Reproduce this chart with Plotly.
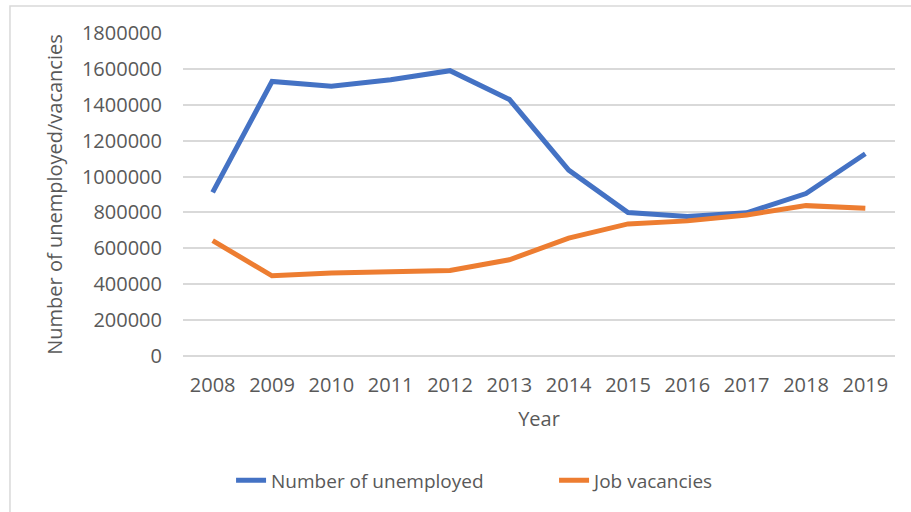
import plotly.graph_objects as go

years = ["2008", "2009", "2010", "2011", "2012", "2013", "2014", "2015", "2016", "2017", "2018", "2019"]
unemployed = [912000, 1530000, 1503000, 1540000, 1590000, 1430000, 1036000, 800000, 777000, 798000, 905000, 1127000]
vacancies = [643000, 447000, 462000, 470000, 477000, 536000, 657000, 736000, 753000, 786000, 838000, 823000]
y_ticks = list(range(0, 1800001, 200000))

FONT = "Open Sans"
TXT = "#595959"

fig = go.Figure()
fig.add_trace(go.Scatter(x=years, y=unemployed, mode="lines", name="Number of unemployed",
                         line=dict(color="#4472C4", width=5)))
fig.add_trace(go.Scatter(x=years, y=vacancies, mode="lines", name="Job vacancies",
                         line=dict(color="#ED7D31", width=5)))

fig.update_layout(
    width=911, height=512,
    margin=dict(l=183, r=16, t=33, b=156, autoexpand=False),
    paper_bgcolor="white", plot_bgcolor="white",
    font=dict(family=FONT, size=20, color=TXT),
    showlegend=True,
    legend=dict(orientation="h", x=0.0675, y=-0.385, xanchor="left", yanchor="middle",
                font=dict(family=FONT, size=19, color=TXT), entrywidth=278, entrywidthmode="pixels"),
    xaxis=dict(type="category", range=[-0.5, 11.5], showgrid=False, showline=False, zeroline=False,
               automargin=False,
               ticks="", ticklabelstandoff=15, tickfont=dict(size=20, color=TXT),
               title=dict(text="Year", standoff=14, font=dict(size=20, color=TXT))),
    yaxis=dict(range=[0, 1800000], tickvals=y_ticks, tickformat="d", showgrid=True,
               automargin=False,
               gridcolor="#D9D9D9", gridwidth=1.5, zeroline=True, zerolinecolor="#D9D9D9",
               zerolinewidth=1.5, showline=False, ticks="", ticklabelstandoff=20,
               tickfont=dict(size=20, color=TXT),
               title=dict(text="Number of unemployed/vacancies", standoff=13, font=dict(size=20, color=TXT))),
    shapes=[dict(type="rect", xref="paper", yref="paper", x0=-0.243, x1=1.2, y0=-1.0, y1=1.0835,
                 line=dict(color="#D9D9D9", width=1.5), fillcolor="rgba(0,0,0,0)", layer="below")],
)

fig.write_html("out.html", config={"displayModeBar": False},
               post_script="document.body.style.margin='0';")
